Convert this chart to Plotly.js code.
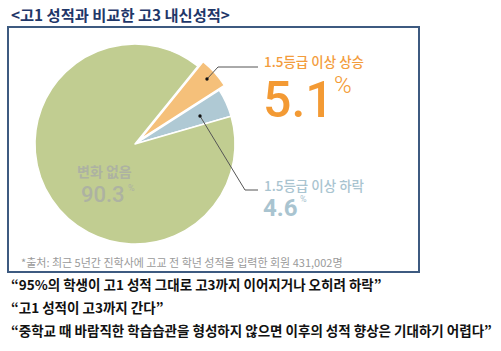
<!DOCTYPE html>
<html>
<head>
<meta charset="utf-8">
<script src="https://cdn.plot.ly/plotly-3.0.1.min.js"></script>
<style>
html,body{margin:0;padding:0;background:#fff;}
#chart{width:501px;height:351px;}
</style>
</head>
<body>
<div id="chart"></div>
<script>
// Data
const categories = ["1.5등급 이상 상승", "1.5등급 이상 하락", "변화 없음"];
const values = [5.1, 4.6, 90.3];
const sliceColors = ["#f5c07a", "#afc9d4", "#c1cd91"];
const titleText = "<고1 성적과 비교한 고3 내신성적>";
const sourceText = "*출처: 최근 5년간 진학사에 고교 전 학년 성적을 입력한 회원 431,002명";
const quotes = [
  "“95%의 학생이 고1 성적 그대로 고3까지 이어지거나 오히려 하락”",
  "“고1 성적이 고3까지 간다”",
  "“중학교 때 바람직한 학습습관을 형성하지 않으면 이후의 성적 향상은 기대하기 어렵다”"
];

const W = 501, H = 351;
const px = x => x / W;
const py = y => 1 - y / H;

const KR = "'Noto Sans CJK KR', 'Noto Sans', sans-serif";
const NUM = "Roboto, 'Noto Sans', sans-serif";

const pull = 0.07;
const cx = 135, cy = 144, r = 100;
const half = r * (1 + pull);

const trace = {
  type: "pie",
  labels: categories,
  values: values,
  sort: false,
  direction: "clockwise",
  rotation: 39,
  pull: [pull, 0, 0],
  marker: {colors: sliceColors, line: {color: "#ffffff", width: 1.5}},
  textinfo: "none",
  hoverinfo: "label+value",
  showlegend: false,
  domain: {x: [px(cx - half), px(cx + half)], y: [py(cy + half), py(cy - half)]}
};

function ann(text, x, y, size, color, family, extra, weight) {
  return Object.assign({
    text: text, x: px(x), y: py(y), xref: "paper", yref: "paper",
    xanchor: "left", yanchor: "middle", showarrow: false,
    font: {size: size, color: color, family: family, weight: weight || "normal"}
  }, extra || {});
}

const annotations = [
  ann(titleText, 9, 14, 15.3, "#1f3769", KR, null, "bold"),
  ann(categories[0], 262, 61, 13.5, "#f39c3c", KR, null, 500),
  ann(values[0].toFixed(1), 261, 100, 50, "#f39a34", NUM, null, 500),
  ann("%", 332, 85, 24, "#f39a34", NUM, null, 300),
  ann(categories[1], 262, 185, 13.5, "#a9c4d0", KR, null, 500),
  ann(values[1].toFixed(1), 261, 208, 24, "#a9c4d0", NUM, null, "bold"),
  ann("%", 298, 199, 9, "#a9c4d0", NUM),
  ann(categories[2], 104, 171, 14, "#adb2a2", KR, {xanchor: "center"}, "bold"),
  ann(values[2].toFixed(1), 79, 194, 22, "#adb2a2", NUM, null, 500),
  ann("%", 126, 188, 9, "#adb2a2", NUM),
  ann(sourceText, 19, 262, 11, "#9a9a9a", KR),
  ann(quotes[0], 9, 284, 13.5, "#111111", KR, null, "bold"),
  ann(quotes[1], 9, 307, 13.5, "#111111", KR, null, "bold"),
  ann(quotes[2], 9, 330, 13.5, "#111111", KR, null, "bold")
];

const lineStyle = {color: "#555555", width: 1};
const shapes = [
  {type: "rect", xref: "paper", yref: "paper", x0: px(8), x1: px(419), y0: py(272), y1: py(27),
   line: {color: "#3d5a80", width: 2}, fillcolor: "rgba(0,0,0,0)"},
  {type: "path", xref: "paper", yref: "paper",
   path: `M ${px(207)} ${py(79)} L ${px(218)} ${py(67)} L ${px(258)} ${py(67)}`, line: lineStyle},
  {type: "path", xref: "paper", yref: "paper",
   path: `M ${px(200)} ${py(116)} L ${px(245)} ${py(190)} L ${px(258)} ${py(190)}`, line: lineStyle},
  {type: "circle", xref: "paper", yref: "paper", x0: px(205.3), x1: px(208.7), y0: py(80.7), y1: py(77.3),
   fillcolor: "#111", line: {width: 0}},
  {type: "circle", xref: "paper", yref: "paper", x0: px(198.3), x1: px(201.7), y0: py(117.7), y1: py(114.3),
   fillcolor: "#111", line: {width: 0}}
];

const layout = {
  width: W, height: H,
  margin: {l: 0, r: 0, t: 0, b: 0},
  paper_bgcolor: "#ffffff",
  plot_bgcolor: "#ffffff",
  annotations: annotations,
  shapes: shapes
};

Plotly.newPlot("chart", [trace], layout, {displayModeBar: false, staticPlot: true});
</script>
</body>
</html>
